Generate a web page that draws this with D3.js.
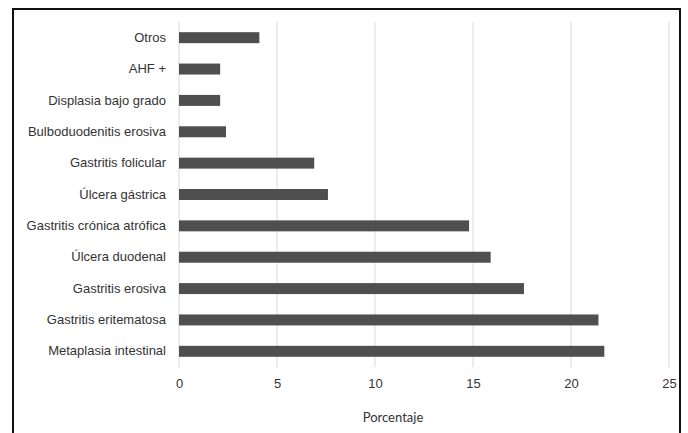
<!DOCTYPE html>
<html lang="es">
<head>
  <meta charset="UTF-8">
  <title>Porcentaje por diagnóstico</title>
  <style>
    body { margin: 0; background: #fff; font-family: Lato, "Open Sans", sans-serif; }
    svg { display: block; }
    .grid line { stroke: #d9d9d9; stroke-width: 1; }
    .axis text { fill: #333; font-size: 13px; }
  </style>
</head>
<body>
  <svg width="688" height="433"></svg>

  <script src="https://d3js.org/d3.v7.min.js"></script>
  <script>
    const categories = [
      "Otros", "AHF +", "Displasia bajo grado", "Bulboduodenitis erosiva",
      "Gastritis folicular", "Úlcera gástrica", "Gastritis crónica atrófica",
      "Úlcera duodenal", "Gastritis erosiva", "Gastritis eritematosa",
      "Metaplasia intestinal"
    ];
    const values = [4.1, 2.1, 2.1, 2.4, 6.9, 7.6, 14.8, 15.9, 17.6, 21.4, 21.7];
    const xTicks = [0, 5, 10, 15, 20, 25];

    const svg = d3.select("svg");
    const margin = { top: 22, left: 179, right: 19, bottom: 66 };
    const width = 688, height = 433;

    // marco negro alrededor del grafico
    svg.append("rect")
      .attr("x", 13).attr("y", 9)
      .attr("width", 667).attr("height", 440)
      .attr("fill", "none")
      .attr("stroke", "#111")
      .attr("stroke-width", 2);

    const x = d3.scaleLinear()
      .domain([0, 25])
      .range([margin.left, 669]);

    const y = d3.scaleBand()
      .domain(categories)
      .range([margin.top, height - margin.bottom])
      .paddingInner(0.65)
      .paddingOuter(0.325);

    svg.append("g")
      .attr("class", "grid")
      .selectAll("line")
      .data(xTicks)
      .join("line")
      .attr("x1", d => x(d)).attr("x2", d => x(d))
      .attr("y1", margin.top).attr("y2", height - margin.bottom);

    svg.append("g")
      .selectAll("rect")
      .data(values)
      .join("rect")
      .attr("x", x(0))
      .attr("y", (d, i) => y(categories[i]))
      .attr("width", d => x(d) - x(0))
      .attr("height", y.bandwidth())
      .attr("fill", "#4f4f4f");

    const xAxis = svg.append("g")
      .attr("class", "axis")
      .attr("transform", `translate(0,${height - margin.bottom})`)
      .call(d3.axisBottom(x).tickValues(xTicks).tickSize(0).tickPadding(12));
    xAxis.select(".domain").remove();

    const yAxis = svg.append("g")
      .attr("class", "axis")
      .attr("transform", `translate(${margin.left},0)`)
      .call(d3.axisLeft(y).tickSize(0).tickPadding(13));
    yAxis.select(".domain").remove();

    svg.append("text")
      .attr("x", 393)
      .attr("y", 422)
      .attr("text-anchor", "middle")
      .attr("fill", "#333")
      .style("font-size", "13px")
      .text("Porcentaje");
  </script>
</body>
</html>
